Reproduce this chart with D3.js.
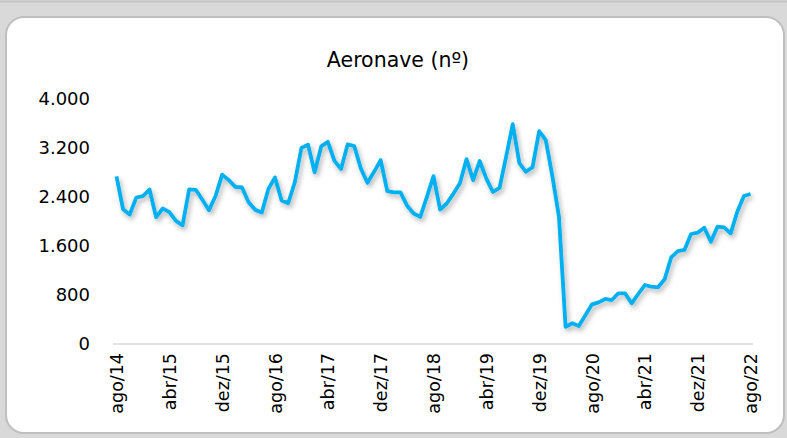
<!DOCTYPE html>
<html>
<head>
<meta charset="utf-8">
<script src="https://cdn.jsdelivr.net/npm/d3@7"></script>
<style>
  html, body { margin: 0; padding: 0; background: #d9d9d9; }
  svg { display: block; font-family: "DejaVu Sans", sans-serif; }
</style>
</head>
<body>
<div id="chart"></div>
<script>
const WIDTH = 787;
const HEIGHT = 438;

const TITLE = 'Aeronave (nº)';

// monthly series, ago/14 .. ago/22
const MONTH_NAMES = ['jan', 'fev', 'mar', 'abr', 'mai', 'jun', 'jul', 'ago', 'set', 'out', 'nov', 'dez'];
const START_MONTH = 7;   // ago
const START_YEAR = 14;

const VALUES = [
  2735, 2200, 2115, 2392, 2413, 2523, 2070, 2212, 2152, 2010, 1937, 2523,
  2518, 2354, 2185, 2416, 2765, 2675, 2566, 2555, 2315, 2190, 2147, 2531,
  2720, 2343, 2300, 2640, 3200, 3255, 2805, 3226, 3300, 2990, 2858, 3258,
  3232, 2866, 2632, 2811, 3003, 2495, 2476, 2476, 2258, 2131, 2075, 2402,
  2741, 2196, 2294, 2452, 2626, 3018, 2676, 2988, 2700, 2482, 2550, 3060,
  3588, 2953, 2811, 2888, 3476, 3330, 2740, 2076, 280, 338, 294, 470,
  648, 680, 735, 718, 828, 828, 664, 816, 963, 935, 926, 1056,
  1416, 1518, 1535, 1796, 1817, 1899, 1670, 1915, 1905, 1807, 2160, 2416,
  2449
];

const Y_TICKS = [0, 800, 1600, 2400, 3200, 4000];
const X_TICKS = ['ago/14', 'abr/15', 'dez/15', 'ago/16', 'abr/17', 'dez/17', 'ago/18',
  'abr/19', 'dez/19', 'ago/20', 'abr/21', 'dez/21', 'ago/22'];

const CATEGORIES = VALUES.map((d, i) => {
  const m = START_MONTH + i;
  return MONTH_NAMES[m % 12] + '/' + (START_YEAR + Math.floor(m / 12));
});

const fmt = d3.formatLocale({ decimal: ',', thousands: '.', grouping: [3], currency: ['', ''] }).format(',d');

const svg = d3.select('#chart')
  .append('svg')
    .attr('width', WIDTH)
    .attr('height', HEIGHT)

const defs = svg.append('defs');
const shadow = defs.append('filter')
    .attr('id', 'shadow')
    .attr('x', '-5%').attr('y', '-5%')
    .attr('width', '110%').attr('height', '120%')
shadow.append('feDropShadow')
    .attr('dx', 2)
    .attr('dy', 3)
    .attr('stdDeviation', 2.5)
    .attr('flood-color', '#000')
    .attr('flood-opacity', 0.3)

// background + card
svg.append('rect')
    .attr('width', WIDTH)
    .attr('height', HEIGHT)
    .attr('fill', '#d9d9d9')

svg.append('line')
    .attr('x1', 0).attr('x2', WIDTH)
    .attr('y1', 1.5).attr('y2', 1.5)
    .attr('stroke', '#c4c4c4')
    .attr('stroke-width', 2)

svg.append('rect')
    .attr('x', 6)
    .attr('y', 17)
    .attr('width', 778)
    .attr('height', 416)
    .attr('rx', 18)
    .attr('fill', '#fff')
    .attr('stroke', '#bfbfbf')
    .attr('stroke-width', 2)

svg.append('text')
    .attr('x', 398)
    .attr('y', 67)
    .attr('text-anchor', 'middle')
    .attr('font-size', 20.5)
    .attr('fill', '#000')
    .text(TITLE)

const xScale = d3.scalePoint()
  .domain(CATEGORIES)
  .range([116.5, 750.5])

const yScale = d3.scaleLinear()
  .domain([0, 4000])
  .range([344, 99])

// y labels
const yAxis = d3.axisLeft(yScale)
  .tickValues(Y_TICKS)
  .tickFormat(fmt)
  .tickSize(0)
  .tickPadding(0)

const yG = svg.append('g')
    .attr('transform', 'translate(90,0)')
    .call(yAxis)
yG.select('.domain').remove()
yG.selectAll('text')
    .attr('font-family', '"DejaVu Sans", sans-serif')
    .attr('font-size', 18)
    .attr('fill', '#000')

// baseline
svg.append('line')
    .attr('x1', 113)
    .attr('x2', 753)
    .attr('y1', yScale(0))
    .attr('y2', yScale(0))
    .attr('stroke', '#d9d9d9')
    .attr('stroke-width', 1.5)

// x labels
const xAxis = d3.axisBottom(xScale)
  .tickValues(X_TICKS)
  .tickSize(0)
  .tickPadding(0)

const xG = svg.append('g')
    .attr('transform', 'translate(0,' + yScale(0) + ')')
    .call(xAxis)
xG.select('.domain').remove()
xG.selectAll('text')
    .attr('font-family', '"DejaVu Sans", sans-serif')
    .attr('font-size', 17.5)
    .attr('fill', '#000')
    .attr('transform', 'rotate(-90)')
    .attr('text-anchor', 'end')
    .attr('dy', '0.35em')
    .attr('x', -9)
    .attr('y', 0)

// series
const line = d3.line()
  .x((d, i) => xScale(CATEGORIES[i]))
  .y((d) => yScale(d))

svg.append('path')
    .datum(VALUES)
    .attr('d', line)
    .attr('fill', 'none')
    .attr('stroke', '#00b0f0')
    .attr('stroke-width', 3.8)
    .attr('stroke-linejoin', 'round')
    .attr('filter', 'url(#shadow)')
</script>
</body>
</html>
